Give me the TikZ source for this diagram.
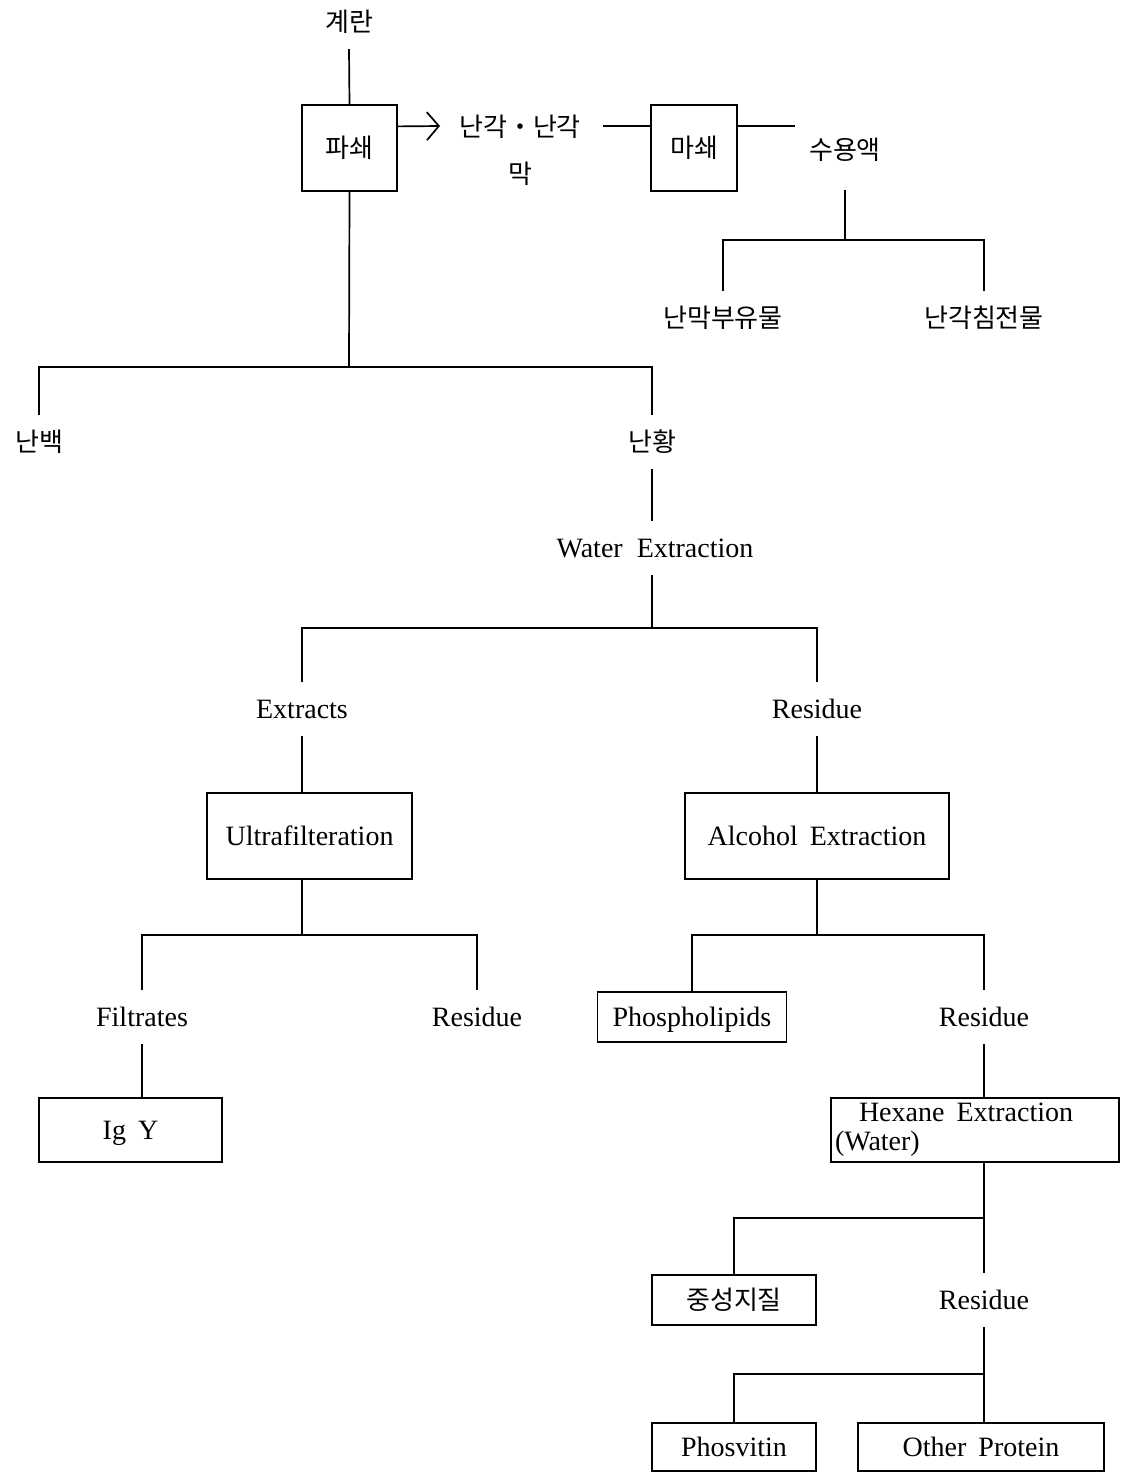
\documentclass[tikz,border=0pt]{standalone}
\usepackage{fontspec}
\setmainfont{Liberation Serif}
\newfontfamily\kr{Noto Sans CJK KR}
\usetikzlibrary{arrows.meta,positioning}

\begin{document}
\begin{tikzpicture}[x=1pt, y=-1pt,
        every node/.style={font=\fontsize{28}{29}\selectfont},
        box/.style={draw, line width=1.2pt, inner sep=0pt, minimum height=86pt},
        tx/.style={text height=19pt, text depth=0pt},
        lbl/.style={inner sep=0pt, minimum height=54pt},
        kor/.style={font=\kr\fontsize{26}{29}\selectfont},
        link/.style={line width=1.7pt},
        arr/.style={-{Straight Barb[length=12pt, width=28pt]}, line width=1.7pt},
    ]
        \useasboundingbox (0,0) rectangle (1124,1473);

        % Egg and breaking
        \node[lbl, kor] (egg) at (349,22) {계란};
        \node[box, kor, minimum width=95pt] (pasoe) at (349.5,148) {파쇄};
        \draw[link] (egg.south) -- (pasoe.north);

        % Shell and membrane
        \coordinate (shelltip) at (440,126);
        \draw[arr] ([yshift=-22pt]pasoe.north east) -- (shelltip);
        \node[kor, align=center] (shell) at (520,150) {난각・난각\\[18pt]막};
        \coordinate (shellout) at (603,126);
        \node[box, kor, minimum width=86pt] (masoe) at (694,148) {마쇄};
        \draw[link] (shellout) -- (shellout -| masoe.west);
        \coordinate (soluout) at (795,126);
        \draw[link] (soluout -| masoe.east) -- (soluout);
        \node[kor, inner sep=0pt, minimum height=80pt] (suyong) at (845,150) {수용액};

        \coordinate (j0) at (845,240);
        \node[lbl, kor] (membrane) at (723,318) {난막부유물};
        \node[lbl, kor] (shellppt) at (984,318) {난각침전물};
        \draw[link] (suyong.south) -- (j0);
        \draw[link] (membrane.north) |- (j0) -| (shellppt.north);

        % White and yolk
        \coordinate (j1) at (349,367);
        \node[lbl, kor] (white) at (39,442) {난백};
        \node[lbl, kor] (yolk) at (652,442) {난황};
        \draw[link] (pasoe.south) -- (j1);
        \draw[link] (white.north) |- (j1) -| (yolk.north);

        % Water extraction
        \node[lbl] (water) at (655,548) {Water\hspace{14pt}Extraction};
        \draw[link] (yolk.south) -- (yolk.south |- water.north);
        \coordinate (j2) at (652,628);
        \node[lbl] (extracts) at (302,709) {Extracts};
        \node[lbl] (residue1) at (817,709) {Residue};
        \draw[link] (j2 |- water.south) -- (j2);
        \draw[link] (extracts.north) |- (j2) -| (residue1.north);

        % Ultrafiltration
        \node[box, tx, minimum width=205pt] (ultra) at (309.5,836) {Ultrafilteration};
        \draw[link] (extracts.south) -- (extracts.south |- ultra.north);
        \coordinate (j3) at (302,935);
        \node[lbl] (filtrates) at (142,1017) {Filtrates};
        \node[lbl] (residue2) at (477,1017) {Residue};
        \draw[link] (j3 |- ultra.south) -- (j3);
        \draw[link] (filtrates.north) |- (j3) -| (residue2.north);
        \node[box, tx, minimum width=183pt, minimum height=64pt] (igy) at (130.5,1130) {Ig\hspace{12pt}Y};
        \draw[link] (filtrates.south) -- (filtrates.south |- igy.north);

        % Alcohol extraction
        \node[box, tx, minimum width=264pt] (alcohol) at (817,836) {Alcohol\hspace{12pt}Extraction};
        \draw[link] (residue1.south) -- (alcohol.north);
        \coordinate (j4) at (817,935);
        \node[box, tx, minimum width=189pt, minimum height=50pt] (phospho) at (692,1017) {Phospholipids};
        \node[lbl] (residue3) at (984,1017) {Residue};
        \draw[link] (alcohol.south) -- (j4);
        \draw[link] (phospho.north) |- (j4) -| (residue3.north);

        % Hexane extraction
        \node[box, minimum width=288pt, minimum height=64pt, text width=280pt,
            inner sep=4pt, align=left] (hexane) at (975,1130)
            {\hspace*{24pt}Hexane\hspace{12pt}Extraction\\(Water)};
        \draw[link] (residue3.south) -- (residue3.south |- hexane.north);
        \coordinate (j5) at (984,1218);
        \node[box, kor, minimum width=164pt, minimum height=50pt] (neutral) at (734,1300) {중성지질};
        \node[lbl] (residue4) at (984,1300) {Residue};
        \draw[link] (j5 |- hexane.south) -- (residue4.north);
        \draw[link] (neutral.north) |- (j5);

        % Final products
        \coordinate (j6) at (984,1374);
        \node[box, tx, minimum width=164pt, minimum height=48pt] (phosvitin) at (734,1447) {Phosvitin};
        \node[box, tx, minimum width=246pt, minimum height=48pt] (other) at (981,1447) {Other\hspace{12pt}Protein};
        \draw[link] (residue4.south) -- (j6 |- other.north);
        \draw[link] (phosvitin.north) |- (j6);
    \end{tikzpicture}
\end{document}
